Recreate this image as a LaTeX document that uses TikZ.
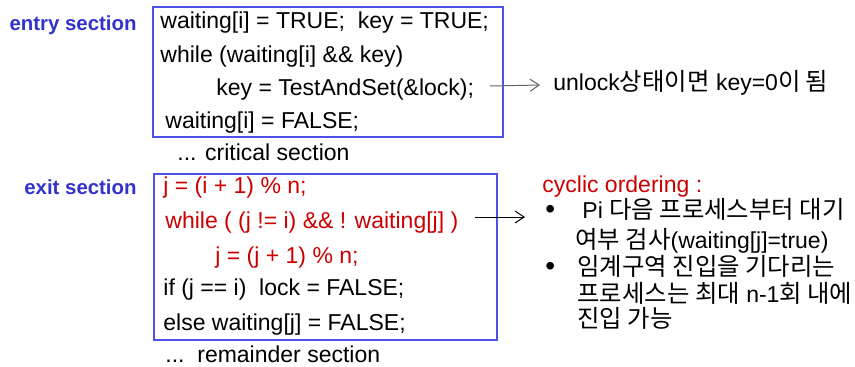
\documentclass[tikz,border=0pt]{standalone}
\usepackage{fontspec}
\setmainfont{Liberation Sans}
\newfontfamily\kr[Scale=1.06]{Noto Sans CJK KR}
\usetikzlibrary{arrows.meta}

\definecolor{SecBlue}{RGB}{51,51,204}
\definecolor{BoxBlue}{RGB}{80,80,230}
\definecolor{CodeRed}{RGB}{204,0,0}
\definecolor{ArrowGrey}{RGB}{100,100,100}

\begin{document}
\begin{tikzpicture}[x=0.5pt, y=-0.5pt,
    code/.style={anchor=west, inner sep=0pt, font=\fontsize{11.5}{14}\selectfont, text height=8.3pt, text depth=2.4pt},
    redcode/.style={code, text=CodeRed},
    sec/.style={anchor=east, inner sep=0pt, font=\fontsize{10.2}{12}\selectfont\bfseries, text=SecBlue},
    frame/.style={draw=BoxBlue, line width=0.7pt},
    dot/.style={code, inner xsep=10pt, font=\fontsize{14}{14}\selectfont},
    note/.style={-{Straight Barb[length=4.5pt,width=6pt]}, line width=0.5pt}]
    \useasboundingbox (0,0) rectangle (855,366);

    % entry section
    \node[sec] (entry) at (137,25) {entry section};
    \draw[frame] (153,7) rectangle (503,137);
    \node[code] (e1) at (160,23) {waiting[i] = TRUE;\ \ key = TRUE;};
    \node[code] (e2) at (160,57) {while (waiting[i] \&\& key)};
    \node[code] (e3) at (216,90) {key = TestAndSet(\&lock);};
    \node[code] (e4) at (165,123) {waiting[i] = FALSE;};
    \node[code] (crit) at (177,155) {... critical section};

    % exit section
    \node[sec] (exit) at (137,187) {exit section};
    \draw[frame] (154,174) rectangle (497,340);
    \node[redcode] (x1) at (163,188) {j = (i + 1) \% n;};
    \node[redcode] (x2) at (165,223) {while ( (j != i) \&\& ! waiting[j] )};
    \node[redcode] (x3) at (215,258) {j = (j + 1) \% n;};
    \node[code] (x4) at (163,290) {if (j == i)\ \ lock = FALSE;};
    \node[code] (x5) at (163,325) {else waiting[j] = FALSE;};
    \node[code] (rem) at (165,357) {...\ \ remainder section};

    % notes on the right
    \node[code, inner xsep=6.5pt] (unlock) at (540,85) {unlock{\kr 상태이면} key=0{\kr 이 됨}};
    \node[redcode] (cyc) at (542,187) {cyclic ordering :};
    \node[dot] (b1) at (525,213) {\textbullet};
    \node[code] (p1) at (582,213) {Pi {\kr 다음 프로세스부터 대기}};
    \node[code] (p2) at (575,243) {{\kr 여부 검사}(waiting[j]=true)};
    \node[dot] (b2) at (525,270) {\textbullet};
    \node[code] (p3) at (577,270) {{\kr 임계구역 진입을 기다리는}};
    \node[code] (p4) at (577,297) {{\kr 프로세스는 최대} n-1{\kr 회 내에}};
    \node[code] (p5) at (577,322) {{\kr 진입 가능}};

    \coordinate (tas) at (490,86);
    \coordinate (scan) at (475,217);
    \draw[note, draw=ArrowGrey] (tas) -- (unlock.west);
    \draw[note] (scan) -- (scan -| b1.west);
\end{tikzpicture}
\end{document}
